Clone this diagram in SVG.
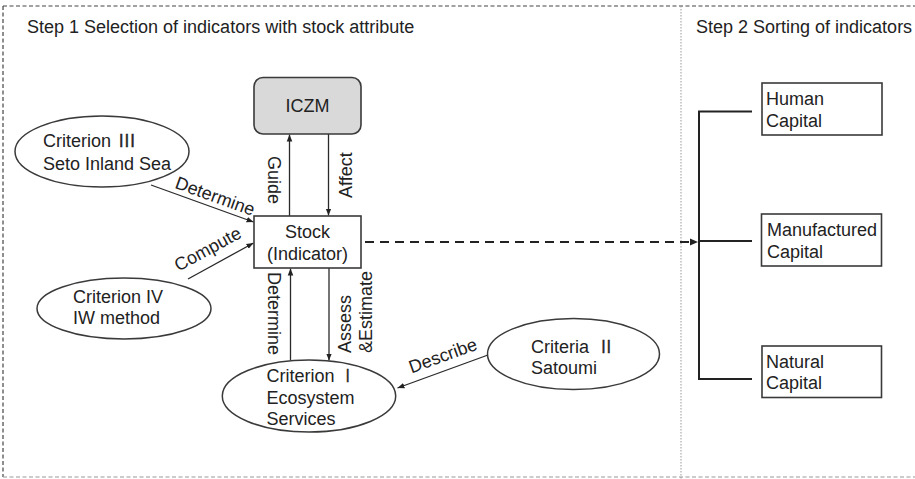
<svg xmlns="http://www.w3.org/2000/svg" width="915" height="479" viewBox="0 0 915 479">
<style>
text{font-family:"Liberation Sans","Noto Sans CJK JP",Arial,sans-serif;font-size:18px;fill:#222}
.rn{font-family:"DejaVu Sans","Noto Sans CJK JP",sans-serif;font-size:18px;font-weight:200;stroke:#222;stroke-width:0.3}
.ell{fill:#fff;stroke:#3a3a3a;stroke-width:1.5}
.box{fill:#fff;stroke:#3a3a3a;stroke-width:1.6}
.arr{stroke:#2a2a2a;stroke-width:1.3;fill:none;marker-end:url(#ah)}
.br{stroke:#222;stroke-width:2;fill:none}
.mid{text-anchor:middle}
</style>
<defs>
<marker id="ah" viewBox="0 0 10 10" refX="10" refY="5" markerWidth="7" markerHeight="7" markerUnits="userSpaceOnUse" orient="auto">
<path d="M0,1 L10,5 L0,9 z" fill="#222"/>
</marker>
</defs>
<rect width="915" height="479" fill="#fff"/>
<g id="frame">
<line x1="3" y1="6" x2="915" y2="6" stroke="#444" stroke-width="1.2" stroke-dasharray="4,2.5"/>
<line x1="3" y1="6" x2="3" y2="477" stroke="#444" stroke-width="1.2" stroke-dasharray="4,2.5"/>
<line x1="3" y1="477" x2="915" y2="477" stroke="#999" stroke-width="1.2" stroke-dasharray="4,2.5"/>
<line x1="681" y1="6" x2="681" y2="479" stroke="#999" stroke-width="1" stroke-dasharray="1.5,1.5"/>
<text x="27" y="33">Step 1 Selection of indicators with stock attribute</text>
<text x="696" y="33">Step 2 Sorting of indicators</text>
</g>
<g id="connectors">
<line class="arr" x1="289.5" y1="216" x2="289.5" y2="134.5"/>
<line class="arr" x1="328.5" y1="134" x2="328.5" y2="215.5"/>
<line class="arr" x1="290.5" y1="360" x2="290.5" y2="268.5"/>
<line class="arr" x1="329" y1="268" x2="329" y2="360.5"/>
<line class="arr" x1="151" y1="185" x2="253.5" y2="222"/>
<line class="arr" x1="188" y1="279" x2="253.5" y2="243"/>
<line class="arr" x1="488" y1="355" x2="397.5" y2="388"/>
<line x1="365" y1="242" x2="690" y2="242" stroke="#222" stroke-width="2" stroke-dasharray="9,6"/>
<path d="M690,238.5 L698,242 L690,245.5 z" fill="#222"/>
<path class="br" d="M752,111.5 H699 V379 H752"/>
<line class="br" x1="699" y1="241" x2="752" y2="241"/>
<text transform="translate(268,180) rotate(90)" class="mid">Guide</text>
<text transform="translate(352,198) rotate(-90)">Affect</text>
<text transform="translate(268,272) rotate(90)">Determine</text>
<text transform="translate(351,353) rotate(-90)">Assess</text>
<text transform="translate(372,353) rotate(-90)">&amp;Estimate</text>
<text transform="translate(211,207.5) rotate(19.8)" class="mid" y="-6">Determine</text>
<text transform="translate(214,260.5) rotate(-28.6)" class="mid" y="-7">Compute</text>
<text transform="translate(447,367) rotate(-19.9)" class="mid" y="-6">Describe</text>
</g>
<g id="iczm">
<rect x="254" y="77.5" width="107" height="56.5" rx="9" fill="#d9d9d9" stroke="#3a3a3a" stroke-width="1.6"/>
<text x="307.5" y="112" class="mid">ICZM</text>
</g>
<g id="stock">
<rect class="box" x="254" y="216" width="107" height="52"/>
<text x="307.5" y="237.5" class="mid">Stock</text>
<text x="307.5" y="260" class="mid">(Indicator)</text>
</g>
<g id="criterion3">
<ellipse class="ell" cx="102" cy="151.5" rx="87" ry="35.5"/>
<text x="43" y="146.5">Criterion</text>
<text class="rn" transform="translate(117,146.5) scale(1.6,1)">Ⅲ</text>
<text x="43" y="170">Seto Inland Sea</text>
</g>
<g id="criterion4">
<ellipse class="ell" cx="124" cy="308.5" rx="87" ry="30.5"/>
<text x="73" y="302.5">Criterion IV</text>
<text x="73" y="323.5">IW method</text>
</g>
<g id="criterion1">
<ellipse class="ell" cx="309" cy="396" rx="86.7" ry="36"/>
<text x="266.5" y="381.5">Criterion</text>
<text class="rn" transform="translate(344,381.5) scale(1.4,1)">Ⅰ</text>
<text x="266.5" y="403.5">Ecosystem</text>
<text x="266.5" y="425">Services</text>
</g>
<g id="criteria2">
<ellipse class="ell" cx="573.5" cy="354" rx="86" ry="35.5"/>
<text x="531" y="353">Criteria</text>
<text class="rn" transform="translate(599.5,353) scale(1.5,1)">Ⅱ</text>
<text x="531" y="374">Satoumi</text>
</g>
<g id="human">
<rect class="box" x="762" y="83" width="120" height="52"/>
<text x="766" y="105">Human</text>
<text x="766" y="126.5">Capital</text>
</g>
<g id="manufactured">
<rect class="box" x="761.5" y="214" width="120" height="52"/>
<text x="767" y="236">Manufactured</text>
<text x="767" y="258">Capital</text>
</g>
<g id="natural">
<rect class="box" x="762" y="346" width="119.5" height="51.5"/>
<text x="766" y="367.5">Natural</text>
<text x="766" y="389">Capital</text>
</g>
</svg>
